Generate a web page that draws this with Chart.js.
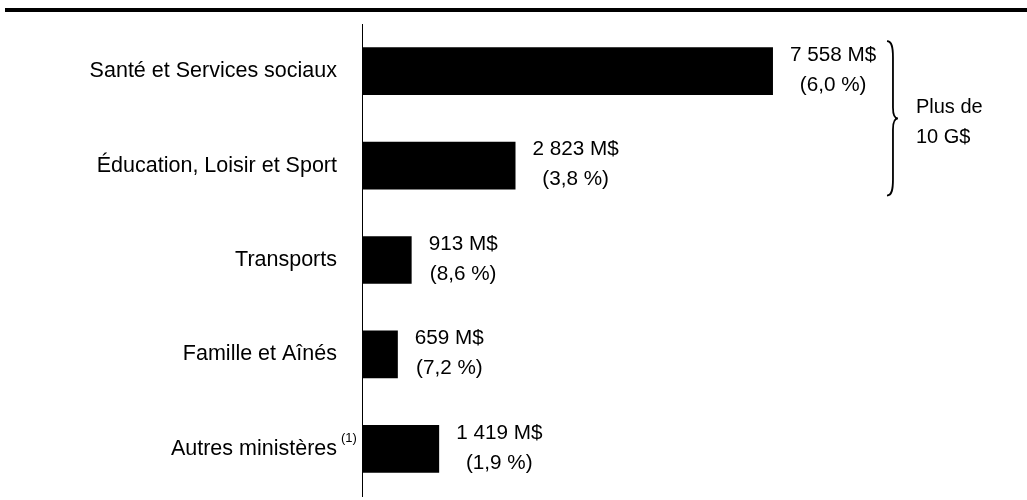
<!DOCTYPE html>
<html lang="fr">
<head>
<meta charset="utf-8">
<title>Dépenses par ministère</title>
<script src="https://cdn.jsdelivr.net/npm/chart.js@4/dist/chart.umd.min.js"></script>
<style>
  html, body { margin: 0; padding: 0; background: #fff; }
  canvas { display: block; }
</style>
</head>
<body>
<canvas id="depenses" width="1027" height="500"></canvas>
<script>
// Ministères, montants (M$) et croissance (%)
const categories = ["Santé et Services sociaux", "Éducation, Loisir et Sport", "Transports", "Famille et Aînés", "Autres ministères"];
const notes = ["", "", "", "", "(1)"];
const amounts = [7558, 2823, 913, 659, 1419];
const growth = [6.0, 3.8, 8.6, 7.2, 1.9];
// accolade sur les deux premiers ministères
const groupRange = [0, 1];
const groupLabel = ["Plus de", "10 G$"];

const FONT = '"Liberation Sans", Arial, sans-serif';

function fmtAmount(n) {
    return String(n).replace(/\B(?=(\d{3})+(?!\d))/g, " ") + " M$";
}
function fmtPct(p) {
    return "(" + p.toFixed(1).replace(".", ",") + " %)";
}

const decorations = {
    id: "decorations",
    beforeDraw(chart) {
        const ctx = chart.ctx;
        ctx.save();
        ctx.fillStyle = "#000";
        ctx.fillRect(5, 8, 1022, 4);
        ctx.restore();
    },
    afterDatasetsDraw(chart) {
        const ctx = chart.ctx;
        const yScale = chart.scales.y;
        const bars = chart.getDatasetMeta(0).data;
        ctx.save();
        ctx.fillStyle = "#000";
        ctx.textBaseline = "middle";

        // noms des ministères
        categories.forEach((name, i) => {
            const y = yScale.getPixelForValue(i);
            ctx.font = "21.5px " + FONT;
            ctx.textAlign = "right";
            ctx.fillText(name, 337, y);
            if (notes[i]) {
                ctx.font = "13px " + FONT;
                ctx.textAlign = "left";
                ctx.fillText(notes[i], 341, y - 10);
            }
        });

        // montants et pourcentages à droite des barres
        ctx.font = "20.7px " + FONT;
        ctx.textAlign = "center";
        bars.forEach((bar, i) => {
            const line1 = fmtAmount(amounts[i]);
            const line2 = fmtPct(growth[i]);
            const w = ctx.measureText(line1).width;
            const cx = bar.x + 17 + w / 2;
            ctx.fillText(line1, cx, bar.y - 16);
            ctx.fillText(line2, cx, bar.y + 14);
        });

        // accolade
        const top = yScale.getPixelForValue(groupRange[0]) - 30;
        const bottom = yScale.getPixelForValue(groupRange[1]) + 30;
        const tip = (top + bottom) / 2;
        const bx = bars[0].x + 120;
        ctx.strokeStyle = "#000";
        ctx.lineWidth = 1.8;
        ctx.beginPath();
        ctx.moveTo(bx - 6, top);
        ctx.bezierCurveTo(bx - 1, top, bx, top + 6, bx, top + 16);
        ctx.lineTo(bx, tip - 11);
        ctx.bezierCurveTo(bx, tip - 4, bx + 2, tip, bx + 5, tip);
        ctx.bezierCurveTo(bx + 2, tip, bx, tip + 4, bx, tip + 11);
        ctx.lineTo(bx, bottom - 16);
        ctx.bezierCurveTo(bx, bottom - 6, bx - 1, bottom, bx - 6, bottom);
        ctx.stroke();

        ctx.font = "20px " + FONT;
        ctx.textAlign = "left";
        ctx.fillText(groupLabel[0], bx + 23, tip - 11);
        ctx.fillText(groupLabel[1], bx + 23, tip + 19);
        ctx.restore();
    }
};

new Chart(document.getElementById("depenses").getContext("2d"), {
    type: "bar",
    data: {
        labels: categories,
        datasets: [{
            data: amounts,
            backgroundColor: "#000",
            borderWidth: 0,
            barPercentage: 0.505,
            categoryPercentage: 1
        }]
    },
    options: {
        indexAxis: "y",
        responsive: false,
        animation: false,
        devicePixelRatio: 1,
        layout: { padding: { top: 24, bottom: 4, left: 0, right: 12.5 } },
        plugins: {
            legend: { display: false },
            tooltip: { enabled: false }
        },
        scales: {
            x: { display: false, min: 0, max: 12000 },
            y: {
                afterFit: (scale) => { scale.width = 362; },
                ticks: { display: false },
                grid: { display: false },
                border: { display: true, color: "#000", width: 1 }
            }
        }
    },
    plugins: [decorations]
});
</script>
</body>
</html>
